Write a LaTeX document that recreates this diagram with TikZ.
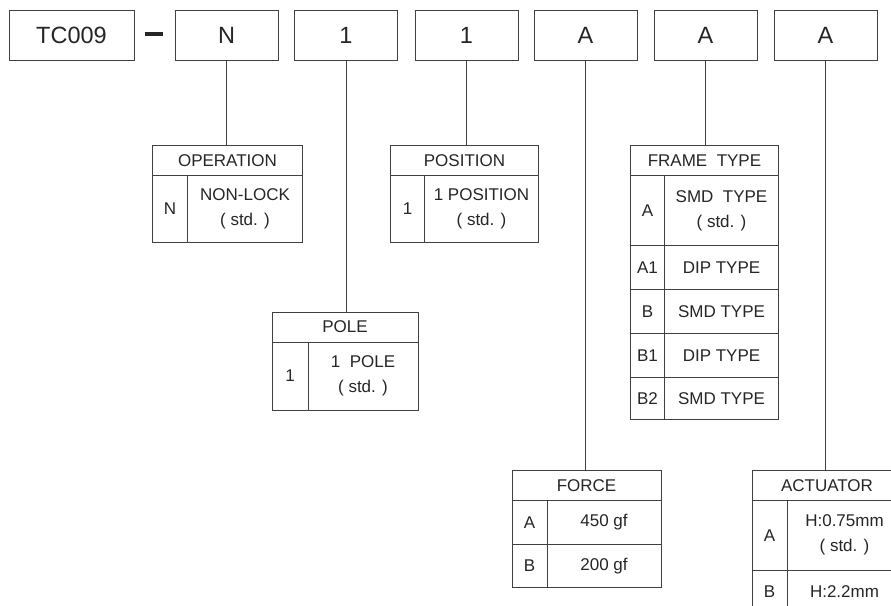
\documentclass[tikz,border=0pt]{standalone}
\usepackage{fontspec}
\setmainfont{Liberation Sans}
\begin{document}
\begin{tikzpicture}[x=1pt,y=-1pt,
  line width=1pt,
  every node/.style={text=black!85},
  topbox/.style={draw=black!75, inner sep=0pt, minimum width=103pt, minimum height=50pt, font=\fontsize{23.5}{28}\selectfont},
  cell/.style={draw=black!75, inner sep=0pt, anchor=north west, align=center, font=\fontsize{17}{25}\selectfont},
  conn/.style={draw=black!75, line width=1pt}]
\path[use as bounding box] (0,0) rectangle (891,605);
\clip (0,0) rectangle (891,605);
\fill[white] (0,0) rectangle (891,605);
% top row
\node[topbox, minimum width=125pt] (tc) at (71.5,35) {TC009};
\node[fill=black!85, inner sep=0pt, minimum width=18pt, minimum height=4.5pt] (dash) at (154,33.8) {};
\node[topbox] (bN) at (226.5,35) {N};
\node[topbox] (bP) at (346,35) {1};
\node[topbox] (bS) at (466.5,35) {1};
\node[topbox] (bF) at (585.5,35) {A};
\node[topbox] (bT) at (705.5,35) {A};
\node[topbox] (bA) at (825.5,35) {A};
% OPERATION
\node[cell, minimum width=150pt, minimum height=30pt] (opH) at (152,145) {OPERATION};
\node[cell, minimum width=35pt, minimum height=67pt] (opK) at (152,175) {N};
\node[cell, minimum width=115pt, minimum height=67pt] (opV) at (187,175) {NON-LOCK\\( std. )};
% POSITION
\node[cell, minimum width=148pt, minimum height=30pt] (psH) at (390,145) {POSITION};
\node[cell, minimum width=34pt, minimum height=67pt] (psK) at (390,175) {1};
\node[cell, minimum width=114pt, minimum height=67pt] (psV) at (424,175) {1 POSITION\\( std. )};
% POLE
\node[cell, minimum width=146pt, minimum height=30pt] (plH) at (271.5,311.5) {POLE};
\node[cell, minimum width=36pt, minimum height=68pt] (plK) at (271.5,341.5) {1};
\node[cell, minimum width=110pt, minimum height=68pt] (plV) at (307.5,341.5) {1\ \ POLE\\( std. )};
% FRAME TYPE
\node[cell, minimum width=148pt, minimum height=30pt] (ftH) at (630,145) {FRAME\ \ TYPE};
\node[cell, minimum width=34pt, minimum height=70pt] (ftK1) at (630,175) {A};
\node[cell, minimum width=114pt, minimum height=70pt] (ftV1) at (664,175) {SMD\ \ TYPE\\( std. )};
\node[cell, minimum width=34pt, minimum height=44pt] (ftK2) at (630,245) {A1};
\node[cell, minimum width=114pt, minimum height=44pt] (ftV2) at (664,245) {DIP TYPE};
\node[cell, minimum width=34pt, minimum height=44pt] (ftK3) at (630,289) {B};
\node[cell, minimum width=114pt, minimum height=44pt] (ftV3) at (664,289) {SMD TYPE};
\node[cell, minimum width=34pt, minimum height=44pt] (ftK4) at (630,333) {B1};
\node[cell, minimum width=114pt, minimum height=44pt] (ftV4) at (664,333) {DIP TYPE};
\node[cell, minimum width=34pt, minimum height=42pt] (ftK5) at (630,377) {B2};
\node[cell, minimum width=114pt, minimum height=42pt] (ftV5) at (664,377) {SMD TYPE};
% FORCE
\node[cell, minimum width=149pt, minimum height=30pt] (fcH) at (511.5,470) {FORCE};
\node[cell, minimum width=35pt, minimum height=43.5pt] (fcK1) at (511.5,500) {A};
\node[cell, minimum width=114pt, minimum height=43.5pt] (fcV1) at (546.5,500) {450 gf};
\node[cell, minimum width=35pt, minimum height=43.5pt] (fcK2) at (511.5,543.5) {B};
\node[cell, minimum width=114pt, minimum height=43.5pt] (fcV2) at (546.5,543.5) {200 gf};
% ACTUATOR (clipped at right and bottom)
\node[cell, minimum width=150pt, minimum height=30pt] (acH) at (751.5,470) {ACTUATOR};
\node[cell, minimum width=35pt, minimum height=69.5pt] (acK1) at (751.5,500) {A};
\node[cell, minimum width=115pt, minimum height=69.5pt] (acV1) at (786.5,500) {H:0.75mm\\( std. )};
\node[cell, minimum width=35pt, minimum height=44pt] (acK2) at (751.5,569.5) {B};
\node[cell, minimum width=115pt, minimum height=44pt] (acV2) at (786.5,569.5) {H:2.2mm};
% connectors
\draw[conn] (bN.south) -- (bN.south |- opH.north);
\draw[conn] (bP.south) -- (bP.south |- plH.north);
\draw[conn] (bS.south) -- (bS.south |- psH.north);
\draw[conn] (bF.south) -- (bF.south |- fcH.north);
\draw[conn] (bT.south) -- (bT.south |- ftH.north);
\draw[conn] (bA.south) -- (bA.south |- acH.north);
\end{tikzpicture}
\end{document}
